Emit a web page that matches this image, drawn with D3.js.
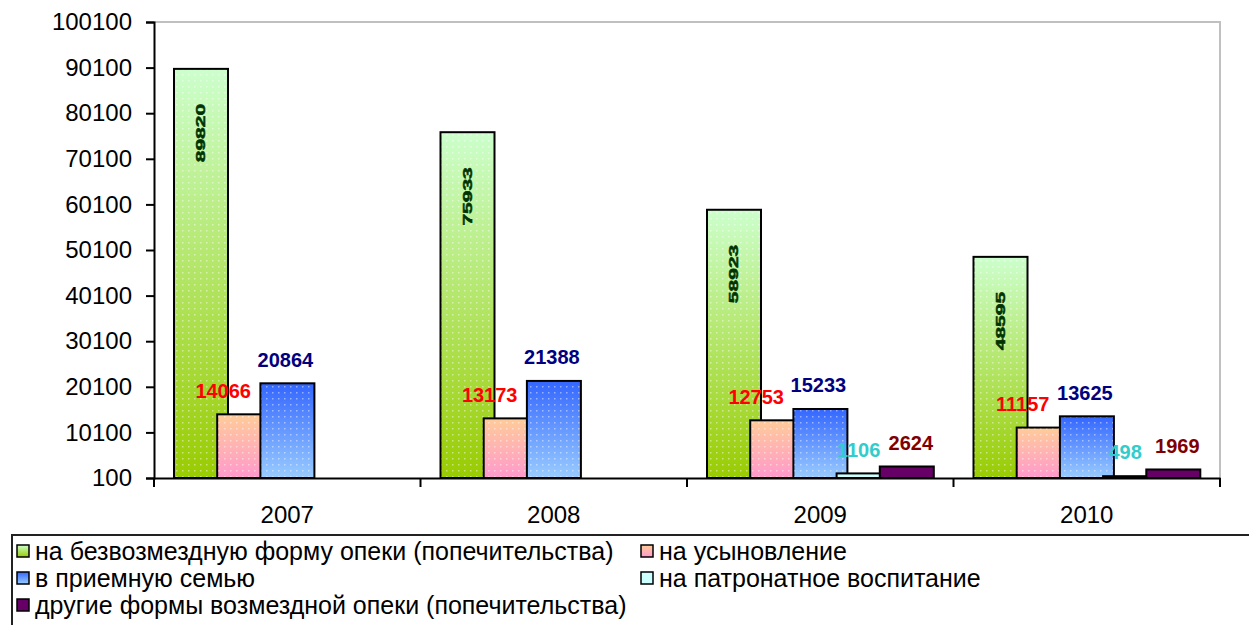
<!DOCTYPE html>
<html>
<head>
<meta charset="utf-8">
<script src="https://cdn.jsdelivr.net/npm/d3@7"></script>
<style>
body { margin: 0; background: #fff; }
svg { display: block; font-family: "Liberation Sans", Arial, sans-serif; }
</style>
</head>
<body>
<svg id="chart" width="1249" height="625"></svg>
<script>
// data
var years = ["2007", "2008", "2009", "2010"];
var seriesNames = [
    "на безвозмездную форму опеки (попечительства)",
    "на усыновление",
    "в приемную семью",
    "на патронатное воспитание",
    "другие формы возмездной опеки (попечительства)"
];
var freeCare = [89820, 75933, 58923, 48595];
var adoption = [14066, 13173, 12753, 11157];
var fosterFamily = [20864, 21388, 15233, 13625];
var patronage = [null, null, 1106, 498];
var otherPaid = [null, null, 2624, 1969];
var yTicks = [100, 10100, 20100, 30100, 40100, 50100, 60100, 70100, 80100, 90100, 100100];

var seriesValues = [freeCare, adoption, fosterFamily, patronage, otherPaid];

// look of every series
var styles = [
    { top: "#ccffcc", bottom: "#99cc00", label: "#003300", dx: 0 },
    { top: "#ffcc99", bottom: "#ff99cc", label: "#ff0000", dx: -21 },
    { top: "#3366ff", bottom: "#99ccff", label: "#000080", dx: -2 },
    { top: "#ccffff", bottom: "#ccffff", label: "#33cccc", dx: -5 },
    { top: "#660066", bottom: "#660066", label: "#800000", dx: 4 }
];

var margin = { left: 154, top: 22, right: 29, bottom: 147 };
var W = 1249, H = 625;
var svg = d3.select("#chart");

var defs = svg.append("defs");
styles.forEach(function(s, i) {
    var g = defs.append("linearGradient")
        .attr("id", "grad" + i)
        .attr("x1", 0).attr("y1", 0).attr("x2", 0).attr("y2", 1);
    g.append("stop").attr("offset", "0%").attr("stop-color", s.top);
    g.append("stop").attr("offset", "100%").attr("stop-color", s.bottom);
});
// dither-ish dots
var pat = defs.append("pattern")
    .attr("id", "dots")
    .attr("width", 6).attr("height", 6)
    .attr("patternUnits", "userSpaceOnUse");
pat.append("rect").attr("x", 2).attr("y", 2).attr("width", 1.5).attr("height", 1.5)
    .attr("fill", "#ffffff").attr("opacity", 0.45);

var x0 = d3.scaleBand()
    .domain(years)
    .range([margin.left, W - margin.right]);

var step = 43.2;
var x1 = d3.scaleBand()
    .domain(d3.range(seriesNames.length))
    .range([20, 20 + step * seriesNames.length]);
var barW = 54;

var y = d3.scaleLinear()
    .domain([100, 100100])
    .range([H - margin.bottom, margin.top]);

// plot frame (top and right in grey)
svg.append("path")
    .attr("d", "M" + margin.left + "," + y(100100) + "H" + x0.range()[1] + "V" + y(100))
    .attr("fill", "none")
    .attr("stroke", "#c0c0c0")
    .attr("stroke-width", 2);

// bars
var gBars = svg.append("g");
seriesValues.forEach(function(vals, si) {
    var pts = years.map(function(yr, i) { return { year: yr, v: vals[i] }; })
        .filter(function(d) { return d.v != null; });
    var g = gBars.append("g");
    g.selectAll("rect.bar").data(pts).enter().append("rect")
        .attr("class", "bar")
        .attr("x", function(d) { return x0(d.year) + x1(si); })
        .attr("y", function(d) { return y(d.v); })
        .attr("width", barW)
        .attr("height", function(d) { return y(100) - y(d.v); })
        .attr("fill", "url(#grad" + si + ")")
        .attr("stroke", "#000")
        .attr("stroke-width", 2);
    if (si < 3) {
        g.selectAll("rect.dot").data(pts).enter().append("rect")
            .attr("class", "dot")
            .attr("x", function(d) { return x0(d.year) + x1(si) + 1; })
            .attr("y", function(d) { return y(d.v) + 1; })
            .attr("width", barW - 2)
            .attr("height", function(d) { return y(100) - y(d.v) - 2; })
            .attr("fill", "url(#dots)");
    }
});

// value labels
var gLab = svg.append("g")
    .attr("font-weight", "bold")
    .attr("font-size", 20);
seriesValues.forEach(function(vals, si) {
    var s = styles[si];
    years.forEach(function(yr, i) {
        var v = vals[i];
        if (v == null) return;
        var cx = x0(yr) + x1(si) + barW / 2;
        if (si == 0) {
            gLab.append("text")
                .attr("transform", "translate(" + (cx + 4) + "," + (y(v) + 35) + ") rotate(-90) scale(1,0.62)")
                .attr("text-anchor", "end")
                .attr("fill", s.label)
                .attr("font-size", 21)
                .attr("stroke", s.label)
                .attr("stroke-width", 0.8)
                .text(v);
        } else {
            gLab.append("text")
                .attr("x", cx + s.dx)
                .attr("y", y(v) - 24)
                .attr("dy", "0.36em")
                .attr("text-anchor", "middle")
                .attr("fill", s.label)
                .text(v);
        }
    });
});

// y axis
var yAxis = d3.axisLeft(y)
    .tickValues(yTicks)
    .tickFormat(d3.format("d"))
    .tickSize(8)
    .tickPadding(14);
var gy = svg.append("g")
    .attr("transform", "translate(" + margin.left + ",0)")
    .call(yAxis);
gy.select(".domain").attr("stroke", "#000").attr("stroke-width", 2);
gy.selectAll(".tick line").attr("stroke", "#000").attr("stroke-width", 2);
gy.selectAll(".tick text")
    .attr("font-size", 24)
    .attr("font-family", "'Liberation Sans', Arial, sans-serif")
    .attr("fill", "#000");

// x axis
var xAxis = d3.axisBottom(x0).tickSize(0).tickPadding(28);
var gx = svg.append("g")
    .attr("transform", "translate(0," + y(100) + ")")
    .call(xAxis);
gx.select(".domain").attr("stroke", "#000").attr("stroke-width", 2);
gx.selectAll(".tick text")
    .attr("font-size", 24)
    .attr("font-family", "'Liberation Sans', Arial, sans-serif")
    .attr("fill", "#000");
var bounds = years.map(function(yr) { return x0(yr); }).concat([x0.range()[1]]);
gx.selectAll("line.sep").data(bounds).enter().append("line")
    .attr("class", "sep")
    .attr("x1", function(d) { return d; })
    .attr("x2", function(d) { return d; })
    .attr("y1", 0).attr("y2", 9)
    .attr("stroke", "#000").attr("stroke-width", 2);

// legend
var leg = svg.append("g");
leg.append("rect")
    .attr("x", 12).attr("y", 535)
    .attr("width", 1300).attr("height", 200)
    .attr("fill", "#fff")
    .attr("stroke", "#222")
    .attr("stroke-width", 2);
var legendPos = [[0, 0], [1, 0], [0, 1], [1, 1], [0, 2]];
var colX = [17, 641], rowY = [551, 578, 605];
seriesNames.forEach(function(name, i) {
    var px = colX[legendPos[i][0]], py = rowY[legendPos[i][1]];
    leg.append("rect")
        .attr("x", px).attr("y", py - 6)
        .attr("width", 12).attr("height", 12)
        .attr("fill", "url(#grad" + i + ")")
        .attr("stroke", "#000")
        .attr("stroke-width", 1.5);
    leg.append("text")
        .attr("x", px + 18).attr("y", py)
        .attr("dy", "0.36em")
        .attr("font-size", 25)
        .attr("fill", "#000")
        .text(name);
});
</script>
</body>
</html>
